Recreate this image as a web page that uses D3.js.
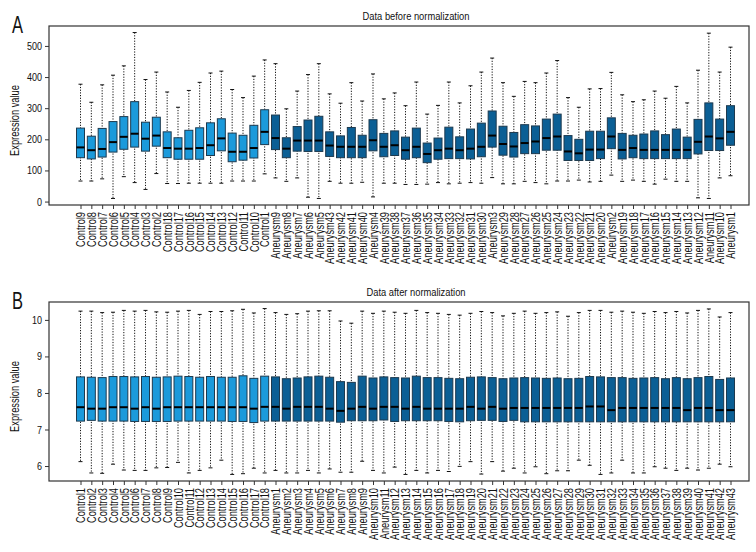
<!DOCTYPE html>
<html>
<head>
<meta charset="utf-8">
<script src="https://cdn.jsdelivr.net/npm/d3@7"></script>
<style>
  body { margin: 0; background: #fff; }
  text { font-family: "Liberation Sans Narrow", "Liberation Sans", "DejaVu Sans Condensed", sans-serif; fill: #111; }
</style>
</head>
<body>
<script>
var width = 756,
    height = 552;

// panel A: raw data, sample order as in the original figure
var namesA = ["Control9","Control8","Control7","Control6","Control5","Control4","Control3","Control2","Control18","Control17",
  "Control16","Control15","Control14","Control13","Control12","Control11","Control10","Control1",
  "Aneurysm9","Aneurysm8","Aneurysm7","Aneurysm6","Aneurysm5","Aneurysm43","Aneurysm42","Aneurysm41","Aneurysm40","Aneurysm4",
  "Aneurysm39","Aneurysm38","Aneurysm37","Aneurysm36","Aneurysm35","Aneurysm34","Aneurysm33","Aneurysm32","Aneurysm31","Aneurysm30",
  "Aneurysm3","Aneurysm29","Aneurysm28","Aneurysm27","Aneurysm26","Aneurysm25","Aneurysm24","Aneurysm23","Aneurysm22","Aneurysm21",
  "Aneurysm20","Aneurysm2","Aneurysm19","Aneurysm18","Aneurysm17","Aneurysm16","Aneurysm15","Aneurysm14","Aneurysm13","Aneurysm12",
  "Aneurysm11","Aneurysm10","Aneurysm1"];
var maxA = [377,319,375,406,436,543,392,416,352,303,357,383,413,419,360,334,403,455,
  443,298,355,408,443,346,316,382,323,410,330,349,308,384,281,309,384,317,372,416,
  461,382,338,386,382,413,453,334,303,362,363,415,343,321,327,355,332,370,317,422,541,416,496];
var q3A = [236,210,235,257,273,321,255,271,224,205,229,237,253,266,220,213,245,295,
  278,205,241,262,274,224,211,238,213,263,219,227,207,236,188,204,239,208,233,252,
  291,242,222,247,243,265,281,212,200,226,226,269,219,213,217,227,215,233,207,264,317,265,308];
var medA = [174,165,169,191,208,218,202,212,172,170,170,172,181,203,160,160,172,224,
  204,170,196,196,196,180,176,176,176,197,176,181,165,176,153,165,170,165,170,176,
  212,185,177,188,193,204,209,161,155,167,167,209,166,172,166,166,166,166,166,192,209,203,224];
var q1A = [141,137,143,159,168,175,162,178,141,136,136,136,148,163,128,133,140,183,
  167,141,162,161,161,145,141,141,141,163,144,148,136,141,125,136,138,138,137,144,
  175,149,143,154,154,165,165,132,132,132,138,170,137,141,138,138,138,138,138,153,164,164,181];
var minA = [66,66,73,10,80,61,39,90,58,58,59,59,59,59,66,66,66,89,
  76,65,76,14,10,65,59,59,62,15,59,59,55,55,56,61,57,59,61,59,
  77,57,57,65,61,57,66,66,69,63,65,85,65,69,65,56,72,65,65,12,10,76,83];
var ticksA = [0,100,200,300,400,500];

// panel B: normalized data
var namesB = ["Control1","Control2","Control3","Control4","Control5","Control6","Control7","Control8","Control9","Control10",
  "Control11","Control12","Control13","Control14","Control15","Control16","Control17","Control18",
  "Aneurysm1","Aneurysm2","Aneurysm3","Aneurysm4","Aneurysm5","Aneurysm6","Aneurysm7","Aneurysm8","Aneurysm9","Aneurysm10",
  "Aneurysm11","Aneurysm12","Aneurysm13","Aneurysm14","Aneurysm15","Aneurysm16","Aneurysm17","Aneurysm18","Aneurysm19","Aneurysm20",
  "Aneurysm21","Aneurysm22","Aneurysm23","Aneurysm24","Aneurysm25","Aneurysm26","Aneurysm27","Aneurysm28","Aneurysm29","Aneurysm30",
  "Aneurysm31","Aneurysm32","Aneurysm33","Aneurysm34","Aneurysm35","Aneurysm36","Aneurysm37","Aneurysm38","Aneurysm39","Aneurysm40",
  "Aneurysm41","Aneurysm42","Aneurysm43"];
var maxB = [10.24,10.24,10.20,10.21,10.26,10.24,10.26,10.22,10.21,10.24,10.26,10.15,10.23,10.23,10.25,10.29,10.19,10.31,
  10.20,10.15,10.17,10.24,10.25,10.25,9.97,9.91,10.24,10.18,10.24,10.21,10.18,10.26,10.20,10.18,10.15,10.13,10.18,10.23,10.20,10.11,
  10.18,10.24,10.18,10.20,10.22,10.10,10.20,10.26,10.26,10.21,10.24,10.21,10.18,10.23,10.20,10.23,10.19,10.26,10.30,10.08,10.20];
var q3B = [8.44,8.43,8.42,8.45,8.45,8.44,8.45,8.43,8.44,8.46,8.45,8.43,8.45,8.43,8.43,8.47,8.40,8.46,
  8.44,8.39,8.41,8.44,8.46,8.43,8.31,8.29,8.46,8.41,8.44,8.42,8.41,8.46,8.42,8.42,8.40,8.39,8.43,8.44,8.42,8.39,
  8.41,8.42,8.41,8.40,8.41,8.39,8.40,8.45,8.44,8.42,8.42,8.40,8.41,8.42,8.39,8.42,8.39,8.42,8.45,8.37,8.41];
var medB = [7.61,7.57,7.57,7.61,7.61,7.57,7.61,7.57,7.61,7.61,7.61,7.61,7.61,7.61,7.61,7.61,7.57,7.62,
  7.62,7.57,7.62,7.62,7.62,7.57,7.51,7.57,7.62,7.57,7.62,7.62,7.57,7.62,7.57,7.57,7.57,7.57,7.62,7.57,7.62,7.57,
  7.59,7.59,7.59,7.59,7.59,7.59,7.59,7.63,7.63,7.53,7.59,7.59,7.59,7.59,7.59,7.59,7.53,7.59,7.59,7.53,7.53];
var q1B = [7.23,7.25,7.23,7.23,7.23,7.22,7.22,7.22,7.22,7.23,7.23,7.23,7.23,7.23,7.22,7.22,7.19,7.23,
  7.23,7.23,7.23,7.23,7.23,7.23,7.20,7.24,7.24,7.24,7.26,7.22,7.24,7.24,7.24,7.24,7.22,7.21,7.24,7.25,7.25,7.22,
  7.25,7.21,7.21,7.21,7.21,7.21,7.21,7.21,7.21,7.21,7.21,7.21,7.21,7.21,7.21,7.21,7.21,7.21,7.21,7.21,7.21];
var minB = [6.12,5.81,5.80,6.05,5.89,5.88,5.88,5.95,5.96,6.10,5.81,5.88,5.95,6.16,5.77,5.79,5.94,5.81,
  5.88,5.81,5.81,5.88,5.81,5.92,5.83,5.83,6.13,5.88,5.81,5.97,5.77,5.88,5.81,5.88,5.85,5.99,6.12,5.78,6.12,5.86,
  5.94,5.81,5.98,5.79,5.87,5.87,6.16,6.02,5.77,5.81,6.16,5.81,5.81,5.98,5.94,5.88,5.94,5.89,5.94,6.05,5.98];
var ticksB = [6,7,8,9,10];

var controlColor = "#1b9adb",
    aneurysmColor = "#0b5f95";

var svg = d3.select("body").append("svg")
  .attr("width", width)
  .attr("height", height)
  .attr("id", "canvas");

svg.append("rect").attr("width", width).attr("height", height).attr("fill", "#fff");

// the original uses a condensed face; measure the local font and squeeze to match
function squeeze(str, size, target) {
  var t = svg.append("text").attr("font-size", size).text(str);
  var w = t.node().getComputedTextLength();
  t.remove();
  return Math.min(1, target / w);
}
var kLabel = squeeze("Aneurysm43", 12, 52),
    kTick = squeeze("500", 11, 15),
    kTitle = squeeze("Data before normalization", 11, 107),
    kYTitle = squeeze("Expression value", 12, 71),
    kLetter = squeeze("A", 23, 11);

drawPanel({
  letter: "A", title: "Data before normalization",
  top: 26, bottom: 205, yDomain: [-11, 564], ticks: ticksA,
  names: namesA, min: minA, q1: q1A, med: medA, q3: q3A, max: maxA
});
drawPanel({
  letter: "B", title: "Data after normalization",
  top: 302, bottom: 481, yDomain: [5.59, 10.49], ticks: ticksB,
  names: namesB, min: minB, q1: q1B, med: medB, q3: q3B, max: maxB
});

function drawPanel(p) {
  var left = 49, right = 749;

  var rows = p.names.map(function(n, i) {
    return {name: n, min: p.min[i], q1: p.q1[i], med: p.med[i], q3: p.q3[i], max: p.max[i]};
  });

  var x = d3.scalePoint()
    .domain(p.names)
    .range([80.5, 730.5]);
  var y = d3.scaleLinear()
    .domain(p.yDomain)
    .range([p.bottom, p.top]);

  var g = svg.append("g");

  //frame
  g.append("rect")
    .attr("x", left).attr("y", p.top)
    .attr("width", right - left).attr("height", p.bottom - p.top)
    .attr("fill", "none").attr("stroke", "#333").attr("stroke-width", 1.2);

  //axes
  var yAxis = g.append("g")
    .attr("transform", "translate(" + left + ",0)")
    .call(d3.axisLeft(y).tickValues(p.ticks).tickSize(4).tickFormat(d3.format("d")));
  yAxis.select(".domain").remove();
  yAxis.selectAll(".tick line").attr("stroke", "#333");
  yAxis.selectAll("text")
    .attr("font-size", 11).attr("font-family", null).attr("fill", "#111")
    .attr("x", 0)
    .attr("transform", "translate(-7,0) scale(" + kTick + ",1)");

  var xAxis = g.append("g")
    .attr("transform", "translate(0," + p.bottom + ")")
    .call(d3.axisBottom(x).tickSize(4));
  xAxis.select(".domain").remove();
  xAxis.selectAll(".tick line").attr("stroke", "#333");
  xAxis.selectAll("text")
    .attr("font-size", 12).attr("font-family", null).attr("fill", "#111")
    .attr("transform", "translate(0,7) rotate(-90) scale(" + kLabel + ",1)")
    .attr("text-anchor", "end")
    .attr("x", 0).attr("y", 0).attr("dy", "0.35em");

  var bw = 8, cw = 4;
  var box = g.selectAll(".box")
    .data(rows)
    .enter().append("g")
    .attr("class", "box");

  box.append("line")
    .attr("x1", function(d) { return x(d.name); })
    .attr("x2", function(d) { return x(d.name); })
    .attr("y1", function(d) { return y(d.max); })
    .attr("y2", function(d) { return y(d.min); })
    .attr("stroke", "#111").attr("stroke-width", 1)
    .attr("stroke-dasharray", "1.2,1.5");

  ["max", "min"].forEach(function(k) {
    box.append("line")
      .attr("x1", function(d) { return x(d.name) - cw / 2; })
      .attr("x2", function(d) { return x(d.name) + cw / 2; })
      .attr("y1", function(d) { return y(d[k]); })
      .attr("y2", function(d) { return y(d[k]); })
      .attr("stroke", "#111").attr("stroke-width", 1);
  });

  box.append("rect")
    .attr("x", function(d) { return x(d.name) - bw / 2; })
    .attr("y", function(d) { return y(d.q3); })
    .attr("width", bw)
    .attr("height", function(d) { return y(d.q1) - y(d.q3); })
    .attr("fill", function(d) { return d.name.indexOf("Control") == 0 ? controlColor : aneurysmColor; })
    .attr("stroke", "#1d3a4f").attr("stroke-width", 1);

  box.append("line")
    .attr("x1", function(d) { return x(d.name) - bw / 2; })
    .attr("x2", function(d) { return x(d.name) + bw / 2; })
    .attr("y1", function(d) { return y(d.med); })
    .attr("y2", function(d) { return y(d.med); })
    .attr("stroke", "#000").attr("stroke-width", 2);

  //titles
  g.append("text")
    .attr("transform", "translate(416," + (p.top - 6) + ") scale(" + kTitle + ",1)")
    .attr("text-anchor", "middle").attr("font-size", 11)
    .text(p.title);
  g.append("text")
    .attr("transform", "translate(12," + (p.top + 7) + ") scale(" + kLetter + ",1)")
    .attr("font-size", 23)
    .text(p.letter);
  g.append("text")
    .attr("transform", "translate(" + 19 + "," + ((p.top + p.bottom) / 2 + 5) + ") rotate(-90) scale(" + kYTitle + ",1)")
    .attr("text-anchor", "middle").attr("font-size", 12)
    .text("Expression value");
}
</script>
</body>
</html>
